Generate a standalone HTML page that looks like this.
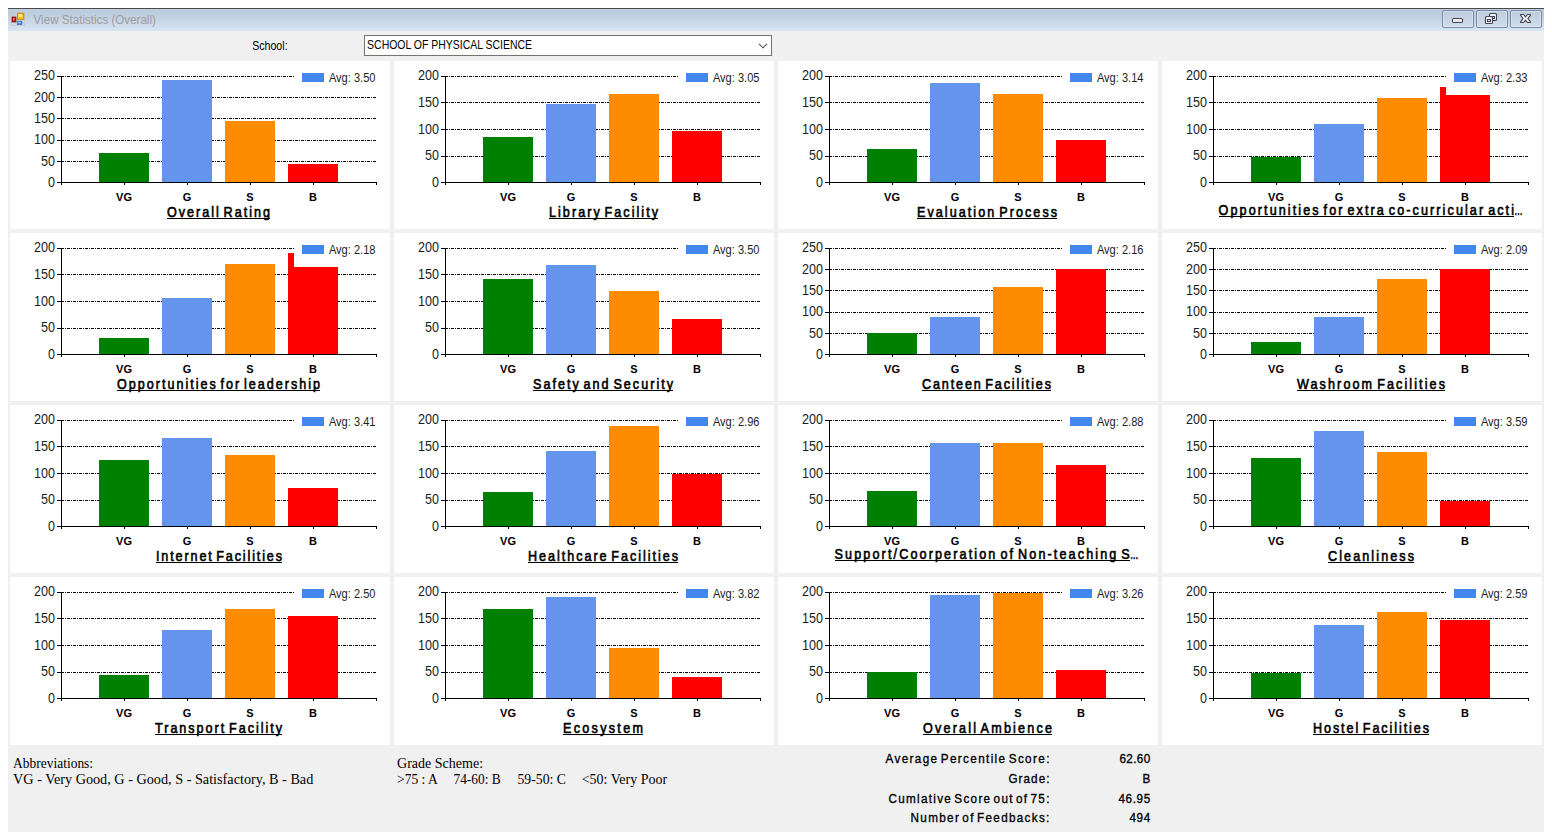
<!DOCTYPE html>
<html><head><meta charset="utf-8"><title>View Statistics (Overall)</title>
<style>
html,body{margin:0;padding:0;background:#fff;}
body{width:1552px;height:840px;position:relative;overflow:hidden;font-family:"Liberation Sans", sans-serif;}
#win{position:absolute;left:8px;top:8px;width:1536px;height:824px;background:#f0f0f0;}
#topline{position:absolute;left:8px;top:8px;width:1536px;height:1px;background:#484848;}
#titlebar{position:absolute;left:8px;top:9px;width:1536px;height:22px;background:linear-gradient(to bottom,#c4d5e8 0px,#bdccdc 1.5px,#bfcede 6px,#d8e5f2 22px);}
.chart{position:absolute;background:#fff;display:block;}
.chart text{font-family:"Liberation Sans", sans-serif;fill:#000;}
.g{stroke:#000;stroke-width:1;stroke-dasharray:3 1 1 1;shape-rendering:crispEdges;}
.chart rect{shape-rendering:crispEdges;}
.chart text.yl{font-size:14px;fill:#1e1e1e;}
.chart text.lg{font-size:12.3px;fill:#1e1e1e;}
.cl{font-size:11px;font-weight:bold;text-anchor:middle;}
.tt{font-size:15px;stroke:#000;stroke-width:0.65px;word-spacing:-3.2px;}
.btn{position:absolute;top:10px;width:30px;height:16px;border:1px solid #7c88a8;border-radius:2px;background:linear-gradient(to bottom,#bdccdd,#cfdcea);box-shadow:inset 0 0 0 1px rgba(255,255,255,.35);}
#combo{position:absolute;left:364px;top:35px;width:406px;height:19px;border:1px solid #737373;background:#fff;}
.abs{position:absolute;}
#ov{position:absolute;left:0;top:0;}
#ov text{fill:#000;}
</style></head><body>
<div id="win"></div><div id="topline"></div><div id="titlebar"></div>
<svg class="abs" style="left:8px;top:8px" width="24" height="24" viewBox="8 8 24 24">
<rect x="11.5" y="12.5" width="13" height="13" fill="none" stroke="#cbc4be" stroke-width="1" opacity=".75"/>
<line x1="16.5" y1="12.5" x2="16.5" y2="25.5" stroke="#d5d0cc" stroke-width="1" opacity=".6"/>
<line x1="11.5" y1="21.5" x2="24.5" y2="21.5" stroke="#d5d0cc" stroke-width="1" opacity=".6"/>
<rect x="17.5" y="13.3" width="6.3" height="6.1" fill="#f7c61a" stroke="#b98a08" stroke-width=".9"/>
<rect x="18.5" y="14.2" width="3.6" height="2.6" fill="#ffe98c"/>
<rect x="12" y="17" width="4" height="5" fill="#c81414" stroke="#8a0a0a" stroke-width=".7"/>
<rect x="13.2" y="18" width="1.2" height="2.2" fill="#ff9d8d"/>
<rect x="17.2" y="21.2" width="4.8" height="3.5" fill="#3f80e6" stroke="#2b60c0" stroke-width=".5"/>
<rect x="18" y="22" width="3" height="1.2" fill="#a5c8ff"/>
</svg>
<div class="btn" style="left:1442px"></div><div class="btn" style="left:1476px"></div><div class="btn" style="left:1510px"></div>
<svg class="abs" style="left:1442px;top:10px" width="100" height="18" viewBox="0 0 100 18">
<rect x="10.5" y="8.5" width="10" height="4" rx="1.2" fill="#f6f5f4" stroke="#45455a" stroke-width="1.15"/>
<rect x="12" y="10.6" width="7" height="1.4" fill="#e3e1df"/>
<rect x="47.5" y="3.5" width="7" height="7" rx="1.1" fill="#f6f5f4" stroke="#45455a" stroke-width="1.15"/>
<rect x="50" y="6" width="3" height="3" fill="#45455a"/><rect x="51" y="7" width="1" height="1" fill="#bfd0e4"/>
<rect x="43.5" y="6.5" width="7" height="7" rx="1.1" fill="#f6f5f4" stroke="#45455a" stroke-width="1.15"/>
<rect x="45" y="9" width="4" height="3" fill="#45455a"/><rect x="46" y="10" width="2" height="1" fill="#d3deeb"/>
<path d="M78.7 4.5 L81.6 4.5 L83.5 6.9 L85.4 4.5 L88.3 4.5 L88.5 5.2 L85.9 8.5 L88.5 11.8 L88.3 12.5 L85.4 12.5 L83.5 10.1 L81.6 12.5 L78.7 12.5 L78.5 11.8 L81.1 8.5 L78.5 5.2 Z" fill="#f5f4f3" stroke="#45455a" stroke-width="1.15" stroke-linejoin="round"/>
</svg>
<div id="combo"></div>
<svg class="chart" style="left:10px;top:61px" width="380" height="168" viewBox="0 0 380 168">
<line class="g" x1="51" y1="15.5" x2="284" y2="15.5"/>
<line class="g" x1="51" y1="36.5" x2="366" y2="36.5"/>
<line class="g" x1="51" y1="57.5" x2="366" y2="57.5"/>
<line class="g" x1="51" y1="79.5" x2="366" y2="79.5"/>
<line class="g" x1="51" y1="100.5" x2="366" y2="100.5"/>
<rect x="89" y="92" width="50" height="29" fill="#008000"/>
<rect x="152" y="19" width="50" height="102" fill="#6495ED"/>
<rect x="215" y="60" width="50" height="61" fill="#FF8C00"/>
<rect x="278" y="103" width="50" height="18" fill="#FF0000"/>
<rect x="51" y="15" width="1" height="109" fill="#000"/>
<rect x="47" y="121" width="320" height="1" fill="#000"/>
<rect x="47" y="15" width="4" height="1" fill="#000"/>
<rect x="47" y="36" width="4" height="1" fill="#000"/>
<rect x="47" y="57" width="4" height="1" fill="#000"/>
<rect x="47" y="79" width="4" height="1" fill="#000"/>
<rect x="47" y="100" width="4" height="1" fill="#000"/>
<rect x="114" y="121" width="1" height="3" fill="#000"/>
<rect x="177" y="121" width="1" height="3" fill="#000"/>
<rect x="240" y="121" width="1" height="3" fill="#000"/>
<rect x="303" y="121" width="1" height="3" fill="#000"/>
<rect x="366" y="121" width="1" height="3" fill="#000"/>
<text class="yl" x="24.1" y="19" textLength="21.0" lengthAdjust="spacingAndGlyphs">250</text>
<text class="yl" x="24.1" y="41" textLength="21.0" lengthAdjust="spacingAndGlyphs">200</text>
<text class="yl" x="24.1" y="62" textLength="21.0" lengthAdjust="spacingAndGlyphs">150</text>
<text class="yl" x="24.1" y="83" textLength="21.0" lengthAdjust="spacingAndGlyphs">100</text>
<text class="yl" x="31.1" y="105" textLength="14.0" lengthAdjust="spacingAndGlyphs">50</text>
<text class="yl" x="38.1" y="126" textLength="7.0" lengthAdjust="spacingAndGlyphs">0</text>
<rect x="292" y="12" width="22" height="9" fill="#4286EE"/>
<text class="lg" x="318.9" y="21" textLength="46.6" lengthAdjust="spacingAndGlyphs">Avg: 3.50</text>
<text class="cl" x="114" y="140">VG</text>
<text class="cl" x="177" y="140">G</text>
<text class="cl" x="240" y="140">S</text>
<text class="cl" x="303" y="140">B</text>
<text class="tt" transform="translate(157.0,155.7) scale(0.84,1)" x="0" y="0" textLength="122.6" lengthAdjust="spacing">Overall Rating</text>
<rect x="157.0" y="157" width="103.0" height="1.2" fill="#000"/>
</svg>
<svg class="chart" style="left:394px;top:61px" width="380" height="168" viewBox="0 0 380 168">
<line class="g" x1="51" y1="15.5" x2="284" y2="15.5"/>
<line class="g" x1="51" y1="41.5" x2="366" y2="41.5"/>
<line class="g" x1="51" y1="68.5" x2="366" y2="68.5"/>
<line class="g" x1="51" y1="95.5" x2="366" y2="95.5"/>
<rect x="89" y="76" width="50" height="45" fill="#008000"/>
<rect x="152" y="43" width="50" height="78" fill="#6495ED"/>
<rect x="215" y="33" width="50" height="88" fill="#FF8C00"/>
<rect x="278" y="70" width="50" height="51" fill="#FF0000"/>
<rect x="51" y="15" width="1" height="109" fill="#000"/>
<rect x="47" y="121" width="320" height="1" fill="#000"/>
<rect x="47" y="15" width="4" height="1" fill="#000"/>
<rect x="47" y="41" width="4" height="1" fill="#000"/>
<rect x="47" y="68" width="4" height="1" fill="#000"/>
<rect x="47" y="95" width="4" height="1" fill="#000"/>
<rect x="114" y="121" width="1" height="3" fill="#000"/>
<rect x="177" y="121" width="1" height="3" fill="#000"/>
<rect x="240" y="121" width="1" height="3" fill="#000"/>
<rect x="303" y="121" width="1" height="3" fill="#000"/>
<rect x="366" y="121" width="1" height="3" fill="#000"/>
<text class="yl" x="24.1" y="19" textLength="21.0" lengthAdjust="spacingAndGlyphs">200</text>
<text class="yl" x="24.1" y="46" textLength="21.0" lengthAdjust="spacingAndGlyphs">150</text>
<text class="yl" x="24.1" y="73" textLength="21.0" lengthAdjust="spacingAndGlyphs">100</text>
<text class="yl" x="31.1" y="99" textLength="14.0" lengthAdjust="spacingAndGlyphs">50</text>
<text class="yl" x="38.1" y="126" textLength="7.0" lengthAdjust="spacingAndGlyphs">0</text>
<rect x="292" y="12" width="22" height="9" fill="#4286EE"/>
<text class="lg" x="318.9" y="21" textLength="46.6" lengthAdjust="spacingAndGlyphs">Avg: 3.05</text>
<text class="cl" x="114" y="140">VG</text>
<text class="cl" x="177" y="140">G</text>
<text class="cl" x="240" y="140">S</text>
<text class="cl" x="303" y="140">B</text>
<text class="tt" transform="translate(155.0,155.7) scale(0.84,1)" x="0" y="0" textLength="129.8" lengthAdjust="spacing">Library Facility</text>
<rect x="155.0" y="157" width="109.0" height="1.2" fill="#000"/>
</svg>
<svg class="chart" style="left:778px;top:61px" width="380" height="168" viewBox="0 0 380 168">
<line class="g" x1="51" y1="15.5" x2="284" y2="15.5"/>
<line class="g" x1="51" y1="41.5" x2="366" y2="41.5"/>
<line class="g" x1="51" y1="68.5" x2="366" y2="68.5"/>
<line class="g" x1="51" y1="95.5" x2="366" y2="95.5"/>
<rect x="89" y="88" width="50" height="33" fill="#008000"/>
<rect x="152" y="22" width="50" height="99" fill="#6495ED"/>
<rect x="215" y="33" width="50" height="88" fill="#FF8C00"/>
<rect x="278" y="79" width="50" height="42" fill="#FF0000"/>
<rect x="51" y="15" width="1" height="109" fill="#000"/>
<rect x="47" y="121" width="320" height="1" fill="#000"/>
<rect x="47" y="15" width="4" height="1" fill="#000"/>
<rect x="47" y="41" width="4" height="1" fill="#000"/>
<rect x="47" y="68" width="4" height="1" fill="#000"/>
<rect x="47" y="95" width="4" height="1" fill="#000"/>
<rect x="114" y="121" width="1" height="3" fill="#000"/>
<rect x="177" y="121" width="1" height="3" fill="#000"/>
<rect x="240" y="121" width="1" height="3" fill="#000"/>
<rect x="303" y="121" width="1" height="3" fill="#000"/>
<rect x="366" y="121" width="1" height="3" fill="#000"/>
<text class="yl" x="24.1" y="19" textLength="21.0" lengthAdjust="spacingAndGlyphs">200</text>
<text class="yl" x="24.1" y="46" textLength="21.0" lengthAdjust="spacingAndGlyphs">150</text>
<text class="yl" x="24.1" y="73" textLength="21.0" lengthAdjust="spacingAndGlyphs">100</text>
<text class="yl" x="31.1" y="99" textLength="14.0" lengthAdjust="spacingAndGlyphs">50</text>
<text class="yl" x="38.1" y="126" textLength="7.0" lengthAdjust="spacingAndGlyphs">0</text>
<rect x="292" y="12" width="22" height="9" fill="#4286EE"/>
<text class="lg" x="318.9" y="21" textLength="46.6" lengthAdjust="spacingAndGlyphs">Avg: 3.14</text>
<text class="cl" x="114" y="140">VG</text>
<text class="cl" x="177" y="140">G</text>
<text class="cl" x="240" y="140">S</text>
<text class="cl" x="303" y="140">B</text>
<text class="tt" transform="translate(139.0,155.7) scale(0.84,1)" x="0" y="0" textLength="166.7" lengthAdjust="spacing">Evaluation Process</text>
<rect x="139.0" y="157" width="140.0" height="1.2" fill="#000"/>
</svg>
<svg class="chart" style="left:1162px;top:61px" width="380" height="168" viewBox="0 0 380 168">
<line class="g" x1="51" y1="15.5" x2="284" y2="15.5"/>
<line class="g" x1="51" y1="41.5" x2="366" y2="41.5"/>
<line class="g" x1="51" y1="68.5" x2="366" y2="68.5"/>
<line class="g" x1="51" y1="95.5" x2="366" y2="95.5"/>
<rect x="89" y="96" width="50" height="25" fill="#008000"/>
<rect x="152" y="63" width="50" height="58" fill="#6495ED"/>
<rect x="215" y="37" width="50" height="84" fill="#FF8C00"/>
<rect x="278" y="34" width="50" height="87" fill="#FF0000"/>
<rect x="278" y="26" width="6" height="8" fill="#FF0000"/>
<rect x="51" y="15" width="1" height="109" fill="#000"/>
<rect x="47" y="121" width="320" height="1" fill="#000"/>
<rect x="47" y="15" width="4" height="1" fill="#000"/>
<rect x="47" y="41" width="4" height="1" fill="#000"/>
<rect x="47" y="68" width="4" height="1" fill="#000"/>
<rect x="47" y="95" width="4" height="1" fill="#000"/>
<rect x="114" y="121" width="1" height="3" fill="#000"/>
<rect x="177" y="121" width="1" height="3" fill="#000"/>
<rect x="240" y="121" width="1" height="3" fill="#000"/>
<rect x="303" y="121" width="1" height="3" fill="#000"/>
<rect x="366" y="121" width="1" height="3" fill="#000"/>
<text class="yl" x="24.1" y="19" textLength="21.0" lengthAdjust="spacingAndGlyphs">200</text>
<text class="yl" x="24.1" y="46" textLength="21.0" lengthAdjust="spacingAndGlyphs">150</text>
<text class="yl" x="24.1" y="73" textLength="21.0" lengthAdjust="spacingAndGlyphs">100</text>
<text class="yl" x="31.1" y="99" textLength="14.0" lengthAdjust="spacingAndGlyphs">50</text>
<text class="yl" x="38.1" y="126" textLength="7.0" lengthAdjust="spacingAndGlyphs">0</text>
<rect x="292" y="12" width="22" height="9" fill="#4286EE"/>
<text class="lg" x="318.9" y="21" textLength="46.6" lengthAdjust="spacingAndGlyphs">Avg: 2.33</text>
<text class="cl" x="114" y="140">VG</text>
<text class="cl" x="177" y="140">G</text>
<text class="cl" x="240" y="140">S</text>
<text class="cl" x="303" y="140">B</text>
<text class="tt" transform="translate(56.6,154) scale(0.84,1)" x="0" y="0" textLength="351.7" lengthAdjust="spacing">Opportunities for extra co-curricular acti</text>
<text class="tt" x="352.2" y="154" textLength="8.4" lengthAdjust="spacingAndGlyphs">…</text>
<rect x="56.6" y="155" width="295.4" height="1.2" fill="#000"/>
</svg>
<svg class="chart" style="left:10px;top:233px" width="380" height="168" viewBox="0 0 380 168">
<line class="g" x1="51" y1="15.5" x2="284" y2="15.5"/>
<line class="g" x1="51" y1="41.5" x2="366" y2="41.5"/>
<line class="g" x1="51" y1="68.5" x2="366" y2="68.5"/>
<line class="g" x1="51" y1="95.5" x2="366" y2="95.5"/>
<rect x="89" y="105" width="50" height="16" fill="#008000"/>
<rect x="152" y="65" width="50" height="56" fill="#6495ED"/>
<rect x="215" y="31" width="50" height="90" fill="#FF8C00"/>
<rect x="278" y="34" width="50" height="87" fill="#FF0000"/>
<rect x="278" y="20" width="6" height="14" fill="#FF0000"/>
<rect x="51" y="15" width="1" height="109" fill="#000"/>
<rect x="47" y="121" width="320" height="1" fill="#000"/>
<rect x="47" y="15" width="4" height="1" fill="#000"/>
<rect x="47" y="41" width="4" height="1" fill="#000"/>
<rect x="47" y="68" width="4" height="1" fill="#000"/>
<rect x="47" y="95" width="4" height="1" fill="#000"/>
<rect x="114" y="121" width="1" height="3" fill="#000"/>
<rect x="177" y="121" width="1" height="3" fill="#000"/>
<rect x="240" y="121" width="1" height="3" fill="#000"/>
<rect x="303" y="121" width="1" height="3" fill="#000"/>
<rect x="366" y="121" width="1" height="3" fill="#000"/>
<text class="yl" x="24.1" y="19" textLength="21.0" lengthAdjust="spacingAndGlyphs">200</text>
<text class="yl" x="24.1" y="46" textLength="21.0" lengthAdjust="spacingAndGlyphs">150</text>
<text class="yl" x="24.1" y="73" textLength="21.0" lengthAdjust="spacingAndGlyphs">100</text>
<text class="yl" x="31.1" y="99" textLength="14.0" lengthAdjust="spacingAndGlyphs">50</text>
<text class="yl" x="38.1" y="126" textLength="7.0" lengthAdjust="spacingAndGlyphs">0</text>
<rect x="292" y="12" width="22" height="9" fill="#4286EE"/>
<text class="lg" x="318.9" y="21" textLength="46.6" lengthAdjust="spacingAndGlyphs">Avg: 2.18</text>
<text class="cl" x="114" y="140">VG</text>
<text class="cl" x="177" y="140">G</text>
<text class="cl" x="240" y="140">S</text>
<text class="cl" x="303" y="140">B</text>
<text class="tt" transform="translate(107.0,155.7) scale(0.84,1)" x="0" y="0" textLength="241.7" lengthAdjust="spacing">Opportunities for leadership</text>
<rect x="107.0" y="157" width="203.0" height="1.2" fill="#000"/>
</svg>
<svg class="chart" style="left:394px;top:233px" width="380" height="168" viewBox="0 0 380 168">
<line class="g" x1="51" y1="15.5" x2="284" y2="15.5"/>
<line class="g" x1="51" y1="41.5" x2="366" y2="41.5"/>
<line class="g" x1="51" y1="68.5" x2="366" y2="68.5"/>
<line class="g" x1="51" y1="95.5" x2="366" y2="95.5"/>
<rect x="89" y="46" width="50" height="75" fill="#008000"/>
<rect x="152" y="32" width="50" height="89" fill="#6495ED"/>
<rect x="215" y="58" width="50" height="63" fill="#FF8C00"/>
<rect x="278" y="86" width="50" height="35" fill="#FF0000"/>
<rect x="51" y="15" width="1" height="109" fill="#000"/>
<rect x="47" y="121" width="320" height="1" fill="#000"/>
<rect x="47" y="15" width="4" height="1" fill="#000"/>
<rect x="47" y="41" width="4" height="1" fill="#000"/>
<rect x="47" y="68" width="4" height="1" fill="#000"/>
<rect x="47" y="95" width="4" height="1" fill="#000"/>
<rect x="114" y="121" width="1" height="3" fill="#000"/>
<rect x="177" y="121" width="1" height="3" fill="#000"/>
<rect x="240" y="121" width="1" height="3" fill="#000"/>
<rect x="303" y="121" width="1" height="3" fill="#000"/>
<rect x="366" y="121" width="1" height="3" fill="#000"/>
<text class="yl" x="24.1" y="19" textLength="21.0" lengthAdjust="spacingAndGlyphs">200</text>
<text class="yl" x="24.1" y="46" textLength="21.0" lengthAdjust="spacingAndGlyphs">150</text>
<text class="yl" x="24.1" y="73" textLength="21.0" lengthAdjust="spacingAndGlyphs">100</text>
<text class="yl" x="31.1" y="99" textLength="14.0" lengthAdjust="spacingAndGlyphs">50</text>
<text class="yl" x="38.1" y="126" textLength="7.0" lengthAdjust="spacingAndGlyphs">0</text>
<rect x="292" y="12" width="22" height="9" fill="#4286EE"/>
<text class="lg" x="318.9" y="21" textLength="46.6" lengthAdjust="spacingAndGlyphs">Avg: 3.50</text>
<text class="cl" x="114" y="140">VG</text>
<text class="cl" x="177" y="140">G</text>
<text class="cl" x="240" y="140">S</text>
<text class="cl" x="303" y="140">B</text>
<text class="tt" transform="translate(139.0,155.7) scale(0.84,1)" x="0" y="0" textLength="166.7" lengthAdjust="spacing">Safety and Security</text>
<rect x="139.0" y="157" width="140.0" height="1.2" fill="#000"/>
</svg>
<svg class="chart" style="left:778px;top:233px" width="380" height="168" viewBox="0 0 380 168">
<line class="g" x1="51" y1="15.5" x2="284" y2="15.5"/>
<line class="g" x1="51" y1="36.5" x2="366" y2="36.5"/>
<line class="g" x1="51" y1="57.5" x2="366" y2="57.5"/>
<line class="g" x1="51" y1="79.5" x2="366" y2="79.5"/>
<line class="g" x1="51" y1="100.5" x2="366" y2="100.5"/>
<rect x="89" y="100" width="50" height="21" fill="#008000"/>
<rect x="152" y="84" width="50" height="37" fill="#6495ED"/>
<rect x="215" y="54" width="50" height="67" fill="#FF8C00"/>
<rect x="278" y="36" width="50" height="85" fill="#FF0000"/>
<rect x="51" y="15" width="1" height="109" fill="#000"/>
<rect x="47" y="121" width="320" height="1" fill="#000"/>
<rect x="47" y="15" width="4" height="1" fill="#000"/>
<rect x="47" y="36" width="4" height="1" fill="#000"/>
<rect x="47" y="57" width="4" height="1" fill="#000"/>
<rect x="47" y="79" width="4" height="1" fill="#000"/>
<rect x="47" y="100" width="4" height="1" fill="#000"/>
<rect x="114" y="121" width="1" height="3" fill="#000"/>
<rect x="177" y="121" width="1" height="3" fill="#000"/>
<rect x="240" y="121" width="1" height="3" fill="#000"/>
<rect x="303" y="121" width="1" height="3" fill="#000"/>
<rect x="366" y="121" width="1" height="3" fill="#000"/>
<text class="yl" x="24.1" y="19" textLength="21.0" lengthAdjust="spacingAndGlyphs">250</text>
<text class="yl" x="24.1" y="41" textLength="21.0" lengthAdjust="spacingAndGlyphs">200</text>
<text class="yl" x="24.1" y="62" textLength="21.0" lengthAdjust="spacingAndGlyphs">150</text>
<text class="yl" x="24.1" y="83" textLength="21.0" lengthAdjust="spacingAndGlyphs">100</text>
<text class="yl" x="31.1" y="105" textLength="14.0" lengthAdjust="spacingAndGlyphs">50</text>
<text class="yl" x="38.1" y="126" textLength="7.0" lengthAdjust="spacingAndGlyphs">0</text>
<rect x="292" y="12" width="22" height="9" fill="#4286EE"/>
<text class="lg" x="318.9" y="21" textLength="46.6" lengthAdjust="spacingAndGlyphs">Avg: 2.16</text>
<text class="cl" x="114" y="140">VG</text>
<text class="cl" x="177" y="140">G</text>
<text class="cl" x="240" y="140">S</text>
<text class="cl" x="303" y="140">B</text>
<text class="tt" transform="translate(144.0,155.7) scale(0.84,1)" x="0" y="0" textLength="153.6" lengthAdjust="spacing">Canteen Facilities</text>
<rect x="144.0" y="157" width="129.0" height="1.2" fill="#000"/>
</svg>
<svg class="chart" style="left:1162px;top:233px" width="380" height="168" viewBox="0 0 380 168">
<line class="g" x1="51" y1="15.5" x2="284" y2="15.5"/>
<line class="g" x1="51" y1="36.5" x2="366" y2="36.5"/>
<line class="g" x1="51" y1="57.5" x2="366" y2="57.5"/>
<line class="g" x1="51" y1="79.5" x2="366" y2="79.5"/>
<line class="g" x1="51" y1="100.5" x2="366" y2="100.5"/>
<rect x="89" y="109" width="50" height="12" fill="#008000"/>
<rect x="152" y="84" width="50" height="37" fill="#6495ED"/>
<rect x="215" y="46" width="50" height="75" fill="#FF8C00"/>
<rect x="278" y="36" width="50" height="85" fill="#FF0000"/>
<rect x="51" y="15" width="1" height="109" fill="#000"/>
<rect x="47" y="121" width="320" height="1" fill="#000"/>
<rect x="47" y="15" width="4" height="1" fill="#000"/>
<rect x="47" y="36" width="4" height="1" fill="#000"/>
<rect x="47" y="57" width="4" height="1" fill="#000"/>
<rect x="47" y="79" width="4" height="1" fill="#000"/>
<rect x="47" y="100" width="4" height="1" fill="#000"/>
<rect x="114" y="121" width="1" height="3" fill="#000"/>
<rect x="177" y="121" width="1" height="3" fill="#000"/>
<rect x="240" y="121" width="1" height="3" fill="#000"/>
<rect x="303" y="121" width="1" height="3" fill="#000"/>
<rect x="366" y="121" width="1" height="3" fill="#000"/>
<text class="yl" x="24.1" y="19" textLength="21.0" lengthAdjust="spacingAndGlyphs">250</text>
<text class="yl" x="24.1" y="41" textLength="21.0" lengthAdjust="spacingAndGlyphs">200</text>
<text class="yl" x="24.1" y="62" textLength="21.0" lengthAdjust="spacingAndGlyphs">150</text>
<text class="yl" x="24.1" y="83" textLength="21.0" lengthAdjust="spacingAndGlyphs">100</text>
<text class="yl" x="31.1" y="105" textLength="14.0" lengthAdjust="spacingAndGlyphs">50</text>
<text class="yl" x="38.1" y="126" textLength="7.0" lengthAdjust="spacingAndGlyphs">0</text>
<rect x="292" y="12" width="22" height="9" fill="#4286EE"/>
<text class="lg" x="318.9" y="21" textLength="46.6" lengthAdjust="spacingAndGlyphs">Avg: 2.09</text>
<text class="cl" x="114" y="140">VG</text>
<text class="cl" x="177" y="140">G</text>
<text class="cl" x="240" y="140">S</text>
<text class="cl" x="303" y="140">B</text>
<text class="tt" transform="translate(135.0,155.7) scale(0.84,1)" x="0" y="0" textLength="176.2" lengthAdjust="spacing">Washroom Facilities</text>
<rect x="135.0" y="157" width="148.0" height="1.2" fill="#000"/>
</svg>
<svg class="chart" style="left:10px;top:405px" width="380" height="168" viewBox="0 0 380 168">
<line class="g" x1="51" y1="15.5" x2="284" y2="15.5"/>
<line class="g" x1="51" y1="41.5" x2="366" y2="41.5"/>
<line class="g" x1="51" y1="68.5" x2="366" y2="68.5"/>
<line class="g" x1="51" y1="95.5" x2="366" y2="95.5"/>
<rect x="89" y="55" width="50" height="66" fill="#008000"/>
<rect x="152" y="33" width="50" height="88" fill="#6495ED"/>
<rect x="215" y="50" width="50" height="71" fill="#FF8C00"/>
<rect x="278" y="83" width="50" height="38" fill="#FF0000"/>
<rect x="51" y="15" width="1" height="109" fill="#000"/>
<rect x="47" y="121" width="320" height="1" fill="#000"/>
<rect x="47" y="15" width="4" height="1" fill="#000"/>
<rect x="47" y="41" width="4" height="1" fill="#000"/>
<rect x="47" y="68" width="4" height="1" fill="#000"/>
<rect x="47" y="95" width="4" height="1" fill="#000"/>
<rect x="114" y="121" width="1" height="3" fill="#000"/>
<rect x="177" y="121" width="1" height="3" fill="#000"/>
<rect x="240" y="121" width="1" height="3" fill="#000"/>
<rect x="303" y="121" width="1" height="3" fill="#000"/>
<rect x="366" y="121" width="1" height="3" fill="#000"/>
<text class="yl" x="24.1" y="19" textLength="21.0" lengthAdjust="spacingAndGlyphs">200</text>
<text class="yl" x="24.1" y="46" textLength="21.0" lengthAdjust="spacingAndGlyphs">150</text>
<text class="yl" x="24.1" y="73" textLength="21.0" lengthAdjust="spacingAndGlyphs">100</text>
<text class="yl" x="31.1" y="99" textLength="14.0" lengthAdjust="spacingAndGlyphs">50</text>
<text class="yl" x="38.1" y="126" textLength="7.0" lengthAdjust="spacingAndGlyphs">0</text>
<rect x="292" y="12" width="22" height="9" fill="#4286EE"/>
<text class="lg" x="318.9" y="21" textLength="46.6" lengthAdjust="spacingAndGlyphs">Avg: 3.41</text>
<text class="cl" x="114" y="140">VG</text>
<text class="cl" x="177" y="140">G</text>
<text class="cl" x="240" y="140">S</text>
<text class="cl" x="303" y="140">B</text>
<text class="tt" transform="translate(146.0,155.7) scale(0.84,1)" x="0" y="0" textLength="150.0" lengthAdjust="spacing">Internet Facilities</text>
<rect x="146.0" y="157" width="126.0" height="1.2" fill="#000"/>
</svg>
<svg class="chart" style="left:394px;top:405px" width="380" height="168" viewBox="0 0 380 168">
<line class="g" x1="51" y1="15.5" x2="284" y2="15.5"/>
<line class="g" x1="51" y1="41.5" x2="366" y2="41.5"/>
<line class="g" x1="51" y1="68.5" x2="366" y2="68.5"/>
<line class="g" x1="51" y1="95.5" x2="366" y2="95.5"/>
<rect x="89" y="87" width="50" height="34" fill="#008000"/>
<rect x="152" y="46" width="50" height="75" fill="#6495ED"/>
<rect x="215" y="21" width="50" height="100" fill="#FF8C00"/>
<rect x="278" y="69" width="50" height="52" fill="#FF0000"/>
<rect x="51" y="15" width="1" height="109" fill="#000"/>
<rect x="47" y="121" width="320" height="1" fill="#000"/>
<rect x="47" y="15" width="4" height="1" fill="#000"/>
<rect x="47" y="41" width="4" height="1" fill="#000"/>
<rect x="47" y="68" width="4" height="1" fill="#000"/>
<rect x="47" y="95" width="4" height="1" fill="#000"/>
<rect x="114" y="121" width="1" height="3" fill="#000"/>
<rect x="177" y="121" width="1" height="3" fill="#000"/>
<rect x="240" y="121" width="1" height="3" fill="#000"/>
<rect x="303" y="121" width="1" height="3" fill="#000"/>
<rect x="366" y="121" width="1" height="3" fill="#000"/>
<text class="yl" x="24.1" y="19" textLength="21.0" lengthAdjust="spacingAndGlyphs">200</text>
<text class="yl" x="24.1" y="46" textLength="21.0" lengthAdjust="spacingAndGlyphs">150</text>
<text class="yl" x="24.1" y="73" textLength="21.0" lengthAdjust="spacingAndGlyphs">100</text>
<text class="yl" x="31.1" y="99" textLength="14.0" lengthAdjust="spacingAndGlyphs">50</text>
<text class="yl" x="38.1" y="126" textLength="7.0" lengthAdjust="spacingAndGlyphs">0</text>
<rect x="292" y="12" width="22" height="9" fill="#4286EE"/>
<text class="lg" x="318.9" y="21" textLength="46.6" lengthAdjust="spacingAndGlyphs">Avg: 2.96</text>
<text class="cl" x="114" y="140">VG</text>
<text class="cl" x="177" y="140">G</text>
<text class="cl" x="240" y="140">S</text>
<text class="cl" x="303" y="140">B</text>
<text class="tt" transform="translate(134.0,155.7) scale(0.84,1)" x="0" y="0" textLength="178.6" lengthAdjust="spacing">Healthcare Facilities</text>
<rect x="134.0" y="157" width="150.0" height="1.2" fill="#000"/>
</svg>
<svg class="chart" style="left:778px;top:405px" width="380" height="168" viewBox="0 0 380 168">
<line class="g" x1="51" y1="15.5" x2="284" y2="15.5"/>
<line class="g" x1="51" y1="41.5" x2="366" y2="41.5"/>
<line class="g" x1="51" y1="68.5" x2="366" y2="68.5"/>
<line class="g" x1="51" y1="95.5" x2="366" y2="95.5"/>
<rect x="89" y="86" width="50" height="35" fill="#008000"/>
<rect x="152" y="38" width="50" height="83" fill="#6495ED"/>
<rect x="215" y="38" width="50" height="83" fill="#FF8C00"/>
<rect x="278" y="60" width="50" height="61" fill="#FF0000"/>
<rect x="51" y="15" width="1" height="109" fill="#000"/>
<rect x="47" y="121" width="320" height="1" fill="#000"/>
<rect x="47" y="15" width="4" height="1" fill="#000"/>
<rect x="47" y="41" width="4" height="1" fill="#000"/>
<rect x="47" y="68" width="4" height="1" fill="#000"/>
<rect x="47" y="95" width="4" height="1" fill="#000"/>
<rect x="114" y="121" width="1" height="3" fill="#000"/>
<rect x="177" y="121" width="1" height="3" fill="#000"/>
<rect x="240" y="121" width="1" height="3" fill="#000"/>
<rect x="303" y="121" width="1" height="3" fill="#000"/>
<rect x="366" y="121" width="1" height="3" fill="#000"/>
<text class="yl" x="24.1" y="19" textLength="21.0" lengthAdjust="spacingAndGlyphs">200</text>
<text class="yl" x="24.1" y="46" textLength="21.0" lengthAdjust="spacingAndGlyphs">150</text>
<text class="yl" x="24.1" y="73" textLength="21.0" lengthAdjust="spacingAndGlyphs">100</text>
<text class="yl" x="31.1" y="99" textLength="14.0" lengthAdjust="spacingAndGlyphs">50</text>
<text class="yl" x="38.1" y="126" textLength="7.0" lengthAdjust="spacingAndGlyphs">0</text>
<rect x="292" y="12" width="22" height="9" fill="#4286EE"/>
<text class="lg" x="318.9" y="21" textLength="46.6" lengthAdjust="spacingAndGlyphs">Avg: 2.88</text>
<text class="cl" x="114" y="140">VG</text>
<text class="cl" x="177" y="140">G</text>
<text class="cl" x="240" y="140">S</text>
<text class="cl" x="303" y="140">B</text>
<text class="tt" transform="translate(56.6,154) scale(0.84,1)" x="0" y="0" textLength="351.4" lengthAdjust="spacing">Support/Coorperation of Non-teaching S</text>
<text class="tt" x="352.0" y="154" textLength="8.4" lengthAdjust="spacingAndGlyphs">…</text>
<rect x="56.6" y="155" width="295.2" height="1.2" fill="#000"/>
</svg>
<svg class="chart" style="left:1162px;top:405px" width="380" height="168" viewBox="0 0 380 168">
<line class="g" x1="51" y1="15.5" x2="284" y2="15.5"/>
<line class="g" x1="51" y1="41.5" x2="366" y2="41.5"/>
<line class="g" x1="51" y1="68.5" x2="366" y2="68.5"/>
<line class="g" x1="51" y1="95.5" x2="366" y2="95.5"/>
<rect x="89" y="53" width="50" height="68" fill="#008000"/>
<rect x="152" y="26" width="50" height="95" fill="#6495ED"/>
<rect x="215" y="47" width="50" height="74" fill="#FF8C00"/>
<rect x="278" y="96" width="50" height="25" fill="#FF0000"/>
<rect x="51" y="15" width="1" height="109" fill="#000"/>
<rect x="47" y="121" width="320" height="1" fill="#000"/>
<rect x="47" y="15" width="4" height="1" fill="#000"/>
<rect x="47" y="41" width="4" height="1" fill="#000"/>
<rect x="47" y="68" width="4" height="1" fill="#000"/>
<rect x="47" y="95" width="4" height="1" fill="#000"/>
<rect x="114" y="121" width="1" height="3" fill="#000"/>
<rect x="177" y="121" width="1" height="3" fill="#000"/>
<rect x="240" y="121" width="1" height="3" fill="#000"/>
<rect x="303" y="121" width="1" height="3" fill="#000"/>
<rect x="366" y="121" width="1" height="3" fill="#000"/>
<text class="yl" x="24.1" y="19" textLength="21.0" lengthAdjust="spacingAndGlyphs">200</text>
<text class="yl" x="24.1" y="46" textLength="21.0" lengthAdjust="spacingAndGlyphs">150</text>
<text class="yl" x="24.1" y="73" textLength="21.0" lengthAdjust="spacingAndGlyphs">100</text>
<text class="yl" x="31.1" y="99" textLength="14.0" lengthAdjust="spacingAndGlyphs">50</text>
<text class="yl" x="38.1" y="126" textLength="7.0" lengthAdjust="spacingAndGlyphs">0</text>
<rect x="292" y="12" width="22" height="9" fill="#4286EE"/>
<text class="lg" x="318.9" y="21" textLength="46.6" lengthAdjust="spacingAndGlyphs">Avg: 3.59</text>
<text class="cl" x="114" y="140">VG</text>
<text class="cl" x="177" y="140">G</text>
<text class="cl" x="240" y="140">S</text>
<text class="cl" x="303" y="140">B</text>
<text class="tt" transform="translate(166.0,155.7) scale(0.84,1)" x="0" y="0" textLength="102.4" lengthAdjust="spacing">Cleanliness</text>
<rect x="166.0" y="157" width="86.0" height="1.2" fill="#000"/>
</svg>
<svg class="chart" style="left:10px;top:577px" width="380" height="168" viewBox="0 0 380 168">
<line class="g" x1="51" y1="15.5" x2="284" y2="15.5"/>
<line class="g" x1="51" y1="41.5" x2="366" y2="41.5"/>
<line class="g" x1="51" y1="68.5" x2="366" y2="68.5"/>
<line class="g" x1="51" y1="95.5" x2="366" y2="95.5"/>
<rect x="89" y="98" width="50" height="23" fill="#008000"/>
<rect x="152" y="53" width="50" height="68" fill="#6495ED"/>
<rect x="215" y="32" width="50" height="89" fill="#FF8C00"/>
<rect x="278" y="39" width="50" height="82" fill="#FF0000"/>
<rect x="51" y="15" width="1" height="109" fill="#000"/>
<rect x="47" y="121" width="320" height="1" fill="#000"/>
<rect x="47" y="15" width="4" height="1" fill="#000"/>
<rect x="47" y="41" width="4" height="1" fill="#000"/>
<rect x="47" y="68" width="4" height="1" fill="#000"/>
<rect x="47" y="95" width="4" height="1" fill="#000"/>
<rect x="114" y="121" width="1" height="3" fill="#000"/>
<rect x="177" y="121" width="1" height="3" fill="#000"/>
<rect x="240" y="121" width="1" height="3" fill="#000"/>
<rect x="303" y="121" width="1" height="3" fill="#000"/>
<rect x="366" y="121" width="1" height="3" fill="#000"/>
<text class="yl" x="24.1" y="19" textLength="21.0" lengthAdjust="spacingAndGlyphs">200</text>
<text class="yl" x="24.1" y="46" textLength="21.0" lengthAdjust="spacingAndGlyphs">150</text>
<text class="yl" x="24.1" y="73" textLength="21.0" lengthAdjust="spacingAndGlyphs">100</text>
<text class="yl" x="31.1" y="99" textLength="14.0" lengthAdjust="spacingAndGlyphs">50</text>
<text class="yl" x="38.1" y="126" textLength="7.0" lengthAdjust="spacingAndGlyphs">0</text>
<rect x="292" y="12" width="22" height="9" fill="#4286EE"/>
<text class="lg" x="318.9" y="21" textLength="46.6" lengthAdjust="spacingAndGlyphs">Avg: 2.50</text>
<text class="cl" x="114" y="140">VG</text>
<text class="cl" x="177" y="140">G</text>
<text class="cl" x="240" y="140">S</text>
<text class="cl" x="303" y="140">B</text>
<text class="tt" transform="translate(145.0,155.7) scale(0.84,1)" x="0" y="0" textLength="151.2" lengthAdjust="spacing">Transport Facility</text>
<rect x="145.0" y="157" width="127.0" height="1.2" fill="#000"/>
</svg>
<svg class="chart" style="left:394px;top:577px" width="380" height="168" viewBox="0 0 380 168">
<line class="g" x1="51" y1="15.5" x2="284" y2="15.5"/>
<line class="g" x1="51" y1="41.5" x2="366" y2="41.5"/>
<line class="g" x1="51" y1="68.5" x2="366" y2="68.5"/>
<line class="g" x1="51" y1="95.5" x2="366" y2="95.5"/>
<rect x="89" y="32" width="50" height="89" fill="#008000"/>
<rect x="152" y="20" width="50" height="101" fill="#6495ED"/>
<rect x="215" y="71" width="50" height="50" fill="#FF8C00"/>
<rect x="278" y="100" width="50" height="21" fill="#FF0000"/>
<rect x="51" y="15" width="1" height="109" fill="#000"/>
<rect x="47" y="121" width="320" height="1" fill="#000"/>
<rect x="47" y="15" width="4" height="1" fill="#000"/>
<rect x="47" y="41" width="4" height="1" fill="#000"/>
<rect x="47" y="68" width="4" height="1" fill="#000"/>
<rect x="47" y="95" width="4" height="1" fill="#000"/>
<rect x="114" y="121" width="1" height="3" fill="#000"/>
<rect x="177" y="121" width="1" height="3" fill="#000"/>
<rect x="240" y="121" width="1" height="3" fill="#000"/>
<rect x="303" y="121" width="1" height="3" fill="#000"/>
<rect x="366" y="121" width="1" height="3" fill="#000"/>
<text class="yl" x="24.1" y="19" textLength="21.0" lengthAdjust="spacingAndGlyphs">200</text>
<text class="yl" x="24.1" y="46" textLength="21.0" lengthAdjust="spacingAndGlyphs">150</text>
<text class="yl" x="24.1" y="73" textLength="21.0" lengthAdjust="spacingAndGlyphs">100</text>
<text class="yl" x="31.1" y="99" textLength="14.0" lengthAdjust="spacingAndGlyphs">50</text>
<text class="yl" x="38.1" y="126" textLength="7.0" lengthAdjust="spacingAndGlyphs">0</text>
<rect x="292" y="12" width="22" height="9" fill="#4286EE"/>
<text class="lg" x="318.9" y="21" textLength="46.6" lengthAdjust="spacingAndGlyphs">Avg: 3.82</text>
<text class="cl" x="114" y="140">VG</text>
<text class="cl" x="177" y="140">G</text>
<text class="cl" x="240" y="140">S</text>
<text class="cl" x="303" y="140">B</text>
<text class="tt" transform="translate(169.0,155.7) scale(0.84,1)" x="0" y="0" textLength="95.2" lengthAdjust="spacing">Ecosystem</text>
<rect x="169.0" y="157" width="80.0" height="1.2" fill="#000"/>
</svg>
<svg class="chart" style="left:778px;top:577px" width="380" height="168" viewBox="0 0 380 168">
<line class="g" x1="51" y1="15.5" x2="284" y2="15.5"/>
<line class="g" x1="51" y1="41.5" x2="366" y2="41.5"/>
<line class="g" x1="51" y1="68.5" x2="366" y2="68.5"/>
<line class="g" x1="51" y1="95.5" x2="366" y2="95.5"/>
<rect x="89" y="95" width="50" height="26" fill="#008000"/>
<rect x="152" y="18" width="50" height="103" fill="#6495ED"/>
<rect x="215" y="16" width="50" height="105" fill="#FF8C00"/>
<rect x="278" y="93" width="50" height="28" fill="#FF0000"/>
<rect x="51" y="15" width="1" height="109" fill="#000"/>
<rect x="47" y="121" width="320" height="1" fill="#000"/>
<rect x="47" y="15" width="4" height="1" fill="#000"/>
<rect x="47" y="41" width="4" height="1" fill="#000"/>
<rect x="47" y="68" width="4" height="1" fill="#000"/>
<rect x="47" y="95" width="4" height="1" fill="#000"/>
<rect x="114" y="121" width="1" height="3" fill="#000"/>
<rect x="177" y="121" width="1" height="3" fill="#000"/>
<rect x="240" y="121" width="1" height="3" fill="#000"/>
<rect x="303" y="121" width="1" height="3" fill="#000"/>
<rect x="366" y="121" width="1" height="3" fill="#000"/>
<text class="yl" x="24.1" y="19" textLength="21.0" lengthAdjust="spacingAndGlyphs">200</text>
<text class="yl" x="24.1" y="46" textLength="21.0" lengthAdjust="spacingAndGlyphs">150</text>
<text class="yl" x="24.1" y="73" textLength="21.0" lengthAdjust="spacingAndGlyphs">100</text>
<text class="yl" x="31.1" y="99" textLength="14.0" lengthAdjust="spacingAndGlyphs">50</text>
<text class="yl" x="38.1" y="126" textLength="7.0" lengthAdjust="spacingAndGlyphs">0</text>
<rect x="292" y="12" width="22" height="9" fill="#4286EE"/>
<text class="lg" x="318.9" y="21" textLength="46.6" lengthAdjust="spacingAndGlyphs">Avg: 3.26</text>
<text class="cl" x="114" y="140">VG</text>
<text class="cl" x="177" y="140">G</text>
<text class="cl" x="240" y="140">S</text>
<text class="cl" x="303" y="140">B</text>
<text class="tt" transform="translate(145.0,155.7) scale(0.84,1)" x="0" y="0" textLength="153.6" lengthAdjust="spacing">Overall Ambience</text>
<rect x="145.0" y="157" width="129.0" height="1.2" fill="#000"/>
</svg>
<svg class="chart" style="left:1162px;top:577px" width="380" height="168" viewBox="0 0 380 168">
<line class="g" x1="51" y1="15.5" x2="284" y2="15.5"/>
<line class="g" x1="51" y1="41.5" x2="366" y2="41.5"/>
<line class="g" x1="51" y1="68.5" x2="366" y2="68.5"/>
<line class="g" x1="51" y1="95.5" x2="366" y2="95.5"/>
<rect x="89" y="96" width="50" height="25" fill="#008000"/>
<rect x="152" y="48" width="50" height="73" fill="#6495ED"/>
<rect x="215" y="35" width="50" height="86" fill="#FF8C00"/>
<rect x="278" y="43" width="50" height="78" fill="#FF0000"/>
<rect x="51" y="15" width="1" height="109" fill="#000"/>
<rect x="47" y="121" width="320" height="1" fill="#000"/>
<rect x="47" y="15" width="4" height="1" fill="#000"/>
<rect x="47" y="41" width="4" height="1" fill="#000"/>
<rect x="47" y="68" width="4" height="1" fill="#000"/>
<rect x="47" y="95" width="4" height="1" fill="#000"/>
<rect x="114" y="121" width="1" height="3" fill="#000"/>
<rect x="177" y="121" width="1" height="3" fill="#000"/>
<rect x="240" y="121" width="1" height="3" fill="#000"/>
<rect x="303" y="121" width="1" height="3" fill="#000"/>
<rect x="366" y="121" width="1" height="3" fill="#000"/>
<text class="yl" x="24.1" y="19" textLength="21.0" lengthAdjust="spacingAndGlyphs">200</text>
<text class="yl" x="24.1" y="46" textLength="21.0" lengthAdjust="spacingAndGlyphs">150</text>
<text class="yl" x="24.1" y="73" textLength="21.0" lengthAdjust="spacingAndGlyphs">100</text>
<text class="yl" x="31.1" y="99" textLength="14.0" lengthAdjust="spacingAndGlyphs">50</text>
<text class="yl" x="38.1" y="126" textLength="7.0" lengthAdjust="spacingAndGlyphs">0</text>
<rect x="292" y="12" width="22" height="9" fill="#4286EE"/>
<text class="lg" x="318.9" y="21" textLength="46.6" lengthAdjust="spacingAndGlyphs">Avg: 2.59</text>
<text class="cl" x="114" y="140">VG</text>
<text class="cl" x="177" y="140">G</text>
<text class="cl" x="240" y="140">S</text>
<text class="cl" x="303" y="140">B</text>
<text class="tt" transform="translate(151.0,155.7) scale(0.84,1)" x="0" y="0" textLength="138.1" lengthAdjust="spacing">Hostel Facilities</text>
<rect x="151.0" y="157" width="116.0" height="1.2" fill="#000"/>
</svg>
<svg id="ov" width="1552" height="840" viewBox="0 0 1552 840">
<text x="252.2" y="50" font-family='"Liberation Sans", sans-serif' font-size="12.3" textLength="35.4" lengthAdjust="spacingAndGlyphs">School:</text>
<text x="367.1" y="49" font-family='"Liberation Sans", sans-serif' font-size="12.3" textLength="165" lengthAdjust="spacingAndGlyphs">SCHOOL OF PHYSICAL SCIENCE</text>
<text x="33.6" y="24" font-family='"Liberation Sans", sans-serif' font-size="12" fill="#a09ca3" style="fill:#a09ca3" textLength="122.3" lengthAdjust="spacingAndGlyphs">View Statistics (Overall)</text>
<path d="M759 43.8 L763 47.8 L767 43.8" fill="none" stroke="#505050" stroke-width="1.1"/>
<text x="13.1" y="767.6" font-family='"Liberation Serif", serif' font-size="14.67" textLength="80.0" lengthAdjust="spacingAndGlyphs">Abbreviations:</text>
<text x="13.1" y="784" font-family='"Liberation Serif", serif' font-size="14.67" textLength="300.2" lengthAdjust="spacingAndGlyphs">VG - Very Good, G - Good, S - Satisfactory, B - Bad</text>
<text x="397" y="767.6" font-family='"Liberation Serif", serif' font-size="14.67" textLength="86.1" lengthAdjust="spacingAndGlyphs">Grade Scheme:</text>
<text x="397" y="784" font-family='"Liberation Serif", serif' font-size="14.67" textLength="40.8" lengthAdjust="spacingAndGlyphs">&gt;75 : A</text>
<text x="453.5" y="784" font-family='"Liberation Serif", serif' font-size="14.67" textLength="47.1" lengthAdjust="spacingAndGlyphs">74-60: B</text>
<text x="517.5" y="784" font-family='"Liberation Serif", serif' font-size="14.67" textLength="48.4" lengthAdjust="spacingAndGlyphs">59-50: C</text>
<text x="581.7" y="784" font-family='"Liberation Serif", serif' font-size="14.67" textLength="85.4" lengthAdjust="spacingAndGlyphs">&lt;50: Very Poor</text>
<text transform="translate(885.5,762.8) scale(0.9,1)" x="0" y="0" font-family='"Liberation Sans", sans-serif' font-size="13" stroke="#000" stroke-width="0.35" style="word-spacing:-2.6px" textLength="182.1" lengthAdjust="spacing">Average Percentile Score:</text>
<text transform="translate(1008.4,782.7) scale(0.9,1)" x="0" y="0" font-family='"Liberation Sans", sans-serif' font-size="13" stroke="#000" stroke-width="0.35" style="word-spacing:-2.6px" textLength="45.6" lengthAdjust="spacing">Grade:</text>
<text transform="translate(888.4,802.6) scale(0.9,1)" x="0" y="0" font-family='"Liberation Sans", sans-serif' font-size="13" stroke="#000" stroke-width="0.35" style="word-spacing:-2.6px" textLength="178.9" lengthAdjust="spacing">Cumlative Score out of 75:</text>
<text transform="translate(910.6,822.3) scale(0.9,1)" x="0" y="0" font-family='"Liberation Sans", sans-serif' font-size="13" stroke="#000" stroke-width="0.35" style="word-spacing:-2.6px" textLength="154.2" lengthAdjust="spacing">Number of Feedbacks:</text>
<text transform="translate(1119.4,762.8) scale(0.9,1)" x="0" y="0" font-family='"Liberation Sans", sans-serif' font-size="13" stroke="#000" stroke-width="0.35" style="word-spacing:-2.6px" textLength="34.3" lengthAdjust="spacing">62.60</text>
<text transform="translate(1142.6,782.7) scale(0.9,1)" x="0" y="0" font-family='"Liberation Sans", sans-serif' font-size="13" stroke="#000" stroke-width="0.35" style="word-spacing:-2.6px" textLength="8.6" lengthAdjust="spacing">B</text>
<text transform="translate(1118.4,802.6) scale(0.9,1)" x="0" y="0" font-family='"Liberation Sans", sans-serif' font-size="13" stroke="#000" stroke-width="0.35" style="word-spacing:-2.6px" textLength="35.4" lengthAdjust="spacing">46.95</text>
<text transform="translate(1129.4,822.3) scale(0.9,1)" x="0" y="0" font-family='"Liberation Sans", sans-serif' font-size="13" stroke="#000" stroke-width="0.35" style="word-spacing:-2.6px" textLength="23.2" lengthAdjust="spacing">494</text>
</svg>
</body></html>
